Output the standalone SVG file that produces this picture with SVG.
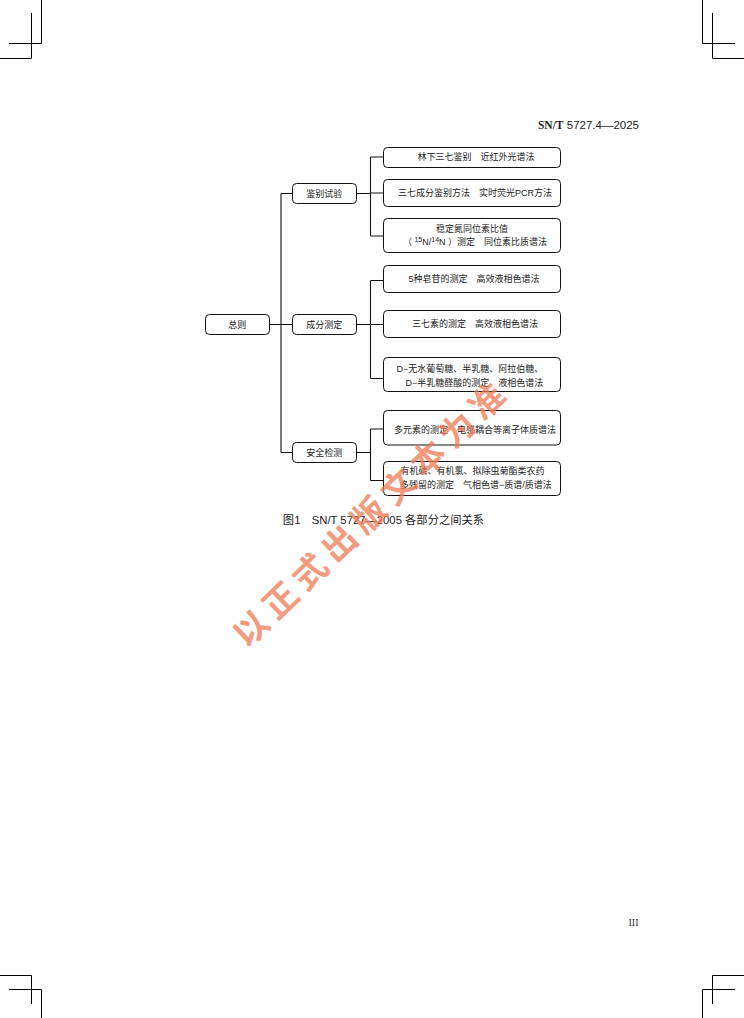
<svg xmlns="http://www.w3.org/2000/svg" width="744" height="1018" viewBox="0 0 744 1018">
<style>
.bg{fill:#ffffff}
.box{fill:#ffffff;stroke:#111;stroke-width:1}
.t{font-family:"Liberation Sans","Noto Sans CJK SC",sans-serif;font-size:9px;fill:#222;text-anchor:middle}
.ln{fill:none;stroke:#111;stroke-width:1.1}
.crop{fill:none;stroke:#000;stroke-width:1}
.sup{font-size:7px}
</style>
<rect class="bg" x="0" y="0" width="744" height="1018"/>
<g id="crop-marks">
<path class="crop" d="M41.5,0 V43.5 H9 M31.5,13 V58.5 H0"/>
<path class="crop" d="M702.5,0 V43.5 H735 M712.5,13 V58.5 H744"/>
<path class="crop" d="M0,975.5 H31.5 V1004 M9,989.5 H41.5 V1018"/>
<path class="crop" d="M744,975.5 H712.5 V1004 M735,989.5 H702.5 V1018"/>
</g>
<text id="header" x="639" y="129" text-anchor="end" font-size="11.5" fill="#222"><tspan font-family="Liberation Serif,serif" font-weight="bold">SN/T</tspan><tspan font-family="Liberation Sans,sans-serif"> 5727.4—2025</tspan></text>
<g id="connectors">
<path class="ln" d="M269.5,324.5 H292.5 M281,193.5 V452.5 M281,193.5 H292.5 M281,452.5 H292.5"/>
<path class="ln" d="M356.5,193.5 H370.5 M370.5,157 V236 M370.5,157 H383.5 M370.5,193 H383.5 M370.5,236 H383.5"/>
<path class="ln" d="M356.5,324.5 H370.5 M370.5,280.5 V378.5 M370.5,280.5 H383.5 M370.5,324.5 H383.5 M370.5,378.5 H383.5"/>
<path class="ln" d="M356.5,452.5 H370.5 M370.5,429 V480.5 M370.5,429 H383.5 M370.5,480.5 H383.5"/>
</g>
<g id="n-zongze"><rect class="box" x="205.5" y="314.5" width="64" height="20" rx="4"/><text class="t" x="237.3" y="328">总则</text></g>
<g id="n-jianbie"><rect class="box" x="292.5" y="183.5" width="64" height="20" rx="4"/><text class="t" x="324.3" y="197">鉴别试验</text></g>
<g id="n-chengfen"><rect class="box" x="292.5" y="314.5" width="64" height="20" rx="4"/><text class="t" x="324.3" y="328">成分测定</text></g>
<g id="n-anquan"><rect class="box" x="292.5" y="442.5" width="64" height="20" rx="4"/><text class="t" x="324.3" y="456">安全检测</text></g>
<g id="n-b1"><rect class="box" x="383.5" y="147.5" width="177" height="20" rx="4"/><text class="t" x="476" y="160.3">林下三七鉴别　近红外光谱法</text></g>
<g id="n-b2"><rect class="box" x="383.5" y="179.5" width="177" height="27" rx="4"/><text class="t" x="475" y="196.3">三七成分鉴别方法　实时荧光PCR方法</text></g>
<g id="n-b3"><rect class="box" x="383.5" y="218.5" width="177" height="34" rx="4"/><text class="t" x="472" y="232">稳定氮同位素比值</text><text class="t" x="475" y="245.3">（ <tspan class="sup" dy="-3">15</tspan><tspan dy="3">N/</tspan><tspan class="sup" dy="-3">14</tspan><tspan dy="3">N ）测定　同位素比质谱法</tspan></text></g>
<g id="n-b4"><rect class="box" x="383.5" y="265.5" width="177" height="27" rx="4"/><text class="t" x="474" y="282.3">5种皂苷的测定　高效液相色谱法</text></g>
<g id="n-b5"><rect class="box" x="383.5" y="310.5" width="177" height="27" rx="4"/><text class="t" x="475" y="327.3">三七素的测定　高效液相色谱法</text></g>
<g id="n-b6"><rect class="box" x="383.5" y="357.5" width="177" height="34" rx="4"/><text class="t" x="470" y="372.3">D−无水葡萄糖、半乳糖、阿拉伯糖、</text><text class="t" x="474.5" y="386">D−半乳糖醛酸的测定　液相色谱法</text></g>
<g id="n-b7"><rect class="box" x="383.5" y="410.5" width="177" height="34.5" rx="4"/><text class="t" x="475" y="432.6">多元素的测定　电感耦合等离子体质谱法</text></g>
<g id="n-b8"><rect class="box" x="383.5" y="461.5" width="177" height="34" rx="4"/><text class="t" x="472.5" y="474.3">有机磷、有机氯、拟除虫菊酯类农药</text><text class="t" x="476" y="488.3">多残留的测定　气相色谱−质谱/质谱法</text></g>
<text id="caption" x="383.5" y="524" text-anchor="middle" font-family="Liberation Sans,Noto Sans CJK SC,sans-serif" font-size="11.3" fill="#222">图1　SN/T 5727—2005 各部分之间关系</text>
<text id="page-number" x="638.5" y="925.5" text-anchor="end" font-family="Liberation Serif,serif" font-size="10" fill="#333">III</text>
<text id="watermark" x="370" y="511" transform="rotate(-44 370 511)" text-anchor="middle" dominant-baseline="central" font-family="Noto Sans CJK SC,sans-serif" font-weight="bold" font-size="34" letter-spacing="7" fill="#f07a55" fill-opacity="0.75">以正式出版文本为准</text>
</svg>
